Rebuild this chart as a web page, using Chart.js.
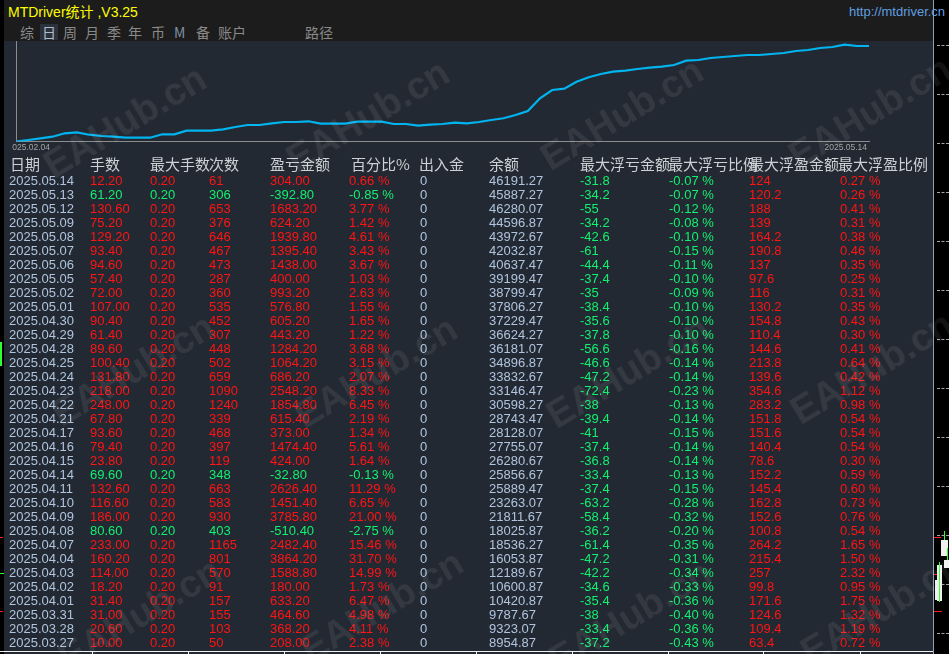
<!DOCTYPE html>
<html>
<head>
<meta charset="utf-8">
<title>MTDriver统计</title>
<script src="https://cdn.jsdelivr.net/npm/chart.js@4.4.1/dist/chart.umd.min.js"></script>
<style>
    html, body { margin: 0; padding: 0; background: #000; }
    body { width: 949px; height: 654px; position: relative; overflow: hidden;
           font-family: "Liberation Sans", Arial, "Noto Sans CJK SC", sans-serif; }
    .abs { position: absolute; white-space: nowrap; }
    #panel { left: 4px; top: 0; width: 929px; height: 654px; background: #232932; }
    #topbar { left: 4px; top: 0; width: 929px; height: 41px; background: #1c1c1c; }
    #title { left: 8px; top: 3px; font-size: 14px; line-height: 18px; color: #ffff00; }
    #url { left: 849px; top: 4px; font-size: 13px; line-height: 16px; color: #5f9fe0; }
    .tab { top: 23px; font-size: 14px; line-height: 18px; color: #8a8a8a; font-family: "Noto Sans CJK SC", sans-serif; }
    #tabOn { left: 40px; top: 24px; width: 18px; height: 16px; background: #2a323e; }
    #curve { position: absolute; left: 12px; top: 41px; }
    .hd { font-size: 15px; line-height: 18px; color: #cdd1d6; font-family: "Noto Sans CJK SC", sans-serif; }
    .cell { font-size: 13px; line-height: 14px; }
    .wm { font-size: 38px; font-weight: bold; color: rgba(255,255,255,0.075);
          transform: translate(-50%, -50%) rotate(-31deg); font-family: "Liberation Sans", Arial, sans-serif; }
    #axisLine { left: 933px; top: 0; width: 1px; height: 654px; background: #8fa0b4; }
    .dash { left: 937px; width: 12px; height: 0; border-top: 1px dashed #a0a8b0; }
    #bottomLine { left: 0; top: 651px; width: 933px; height: 1px; background: #f0f0f0; }
    .sep { top: 652px; width: 1px; height: 2px; background: #f0f0f0; }
</style>
</head>
<body>

<div id="panel" class="abs"></div>
<div id="topbar" class="abs"></div>
<div id="title" class="abs">MTDriver统计 ,V3.25</div>
<div id="url" class="abs">http://mtdriver.cn</div>
<div id="tabOn" class="abs"></div>
<div id="tabs"></div>
<canvas id="curve" width="921" height="115"></canvas>
<div id="table"></div>
<div id="axisLine" class="abs"></div>
<div id="terminal"></div>
<div id="bottomLine" class="abs"></div>
<div id="marks"></div>

<script>
// =============================================
// DATA - balance curve
// =============================================
const curveDates = [
    "2025.02.04", "2025.02.05", "2025.02.06", "2025.02.07", "2025.02.10", "2025.02.11", "2025.02.12",
    "2025.02.13", "2025.02.14", "2025.02.17", "2025.02.18", "2025.02.19", "2025.02.20", "2025.02.21",
    "2025.02.24", "2025.02.25", "2025.02.26", "2025.02.27", "2025.02.28",
    "2025.03.03", "2025.03.04", "2025.03.05", "2025.03.06", "2025.03.07", "2025.03.10", "2025.03.11",
    "2025.03.12", "2025.03.13", "2025.03.14", "2025.03.17", "2025.03.18", "2025.03.19", "2025.03.20",
    "2025.03.21", "2025.03.24", "2025.03.25", "2025.03.26", "2025.03.27", "2025.03.28", "2025.03.31",
    "2025.04.01", "2025.04.02", "2025.04.03", "2025.04.04", "2025.04.07", "2025.04.08", "2025.04.09",
    "2025.04.10", "2025.04.11", "2025.04.14", "2025.04.15", "2025.04.16", "2025.04.17", "2025.04.21",
    "2025.04.22", "2025.04.23", "2025.04.24", "2025.04.25", "2025.04.28", "2025.04.29", "2025.04.30",
    "2025.05.01", "2025.05.02", "2025.05.05", "2025.05.06", "2025.05.07", "2025.05.08", "2025.05.09",
    "2025.05.12", "2025.05.13", "2025.05.14"
];
const curveBalance = [
    0, 720, 1530, 2290, 3910, 4390, 3240, 2620, 2290, 1810, 1810, 1810, 3430, 3430,
    5150, 5150, 5150, 5820, 6920,
    7870, 7870, 8680, 9300, 9300, 9640, 8490, 8490, 8490, 9450, 9450, 9450, 8350, 8350,
    7540, 8010, 8350, 8970, 8680, 9300, 10260,
    11070, 12640, 14550, 20610, 24570, 25190, 28520, 30620, 32200, 33300, 33770, 34580, 35200, 35680,
    36490, 38540, 38880, 39830, 40310, 40780, 41260,
    41260, 41740, 42220, 43170, 43650, 44600, 45080,
    46170, 45550, 45550
];

// =============================================
// DATA - daily table
// =============================================
const dates = [
    "2025.05.14", "2025.05.13", "2025.05.12", "2025.05.09", "2025.05.08", "2025.05.07", "2025.05.06",
    "2025.05.05", "2025.05.02", "2025.05.01", "2025.04.30", "2025.04.29", "2025.04.28", "2025.04.25",
    "2025.04.24", "2025.04.23", "2025.04.22", "2025.04.21", "2025.04.17", "2025.04.16", "2025.04.15",
    "2025.04.14", "2025.04.11", "2025.04.10", "2025.04.09", "2025.04.08", "2025.04.07", "2025.04.04",
    "2025.04.03", "2025.04.02", "2025.04.01", "2025.03.31", "2025.03.28", "2025.03.27"
];
const lots = [12.20, 61.20, 130.60, 75.20, 129.20, 93.40, 94.60, 57.40, 72.00, 107.00, 90.40, 61.40,
    89.60, 100.40, 131.80, 218.00, 248.00, 67.80, 93.60, 79.40, 23.80, 69.60, 132.60, 116.60, 186.00,
    80.60, 233.00, 160.20, 114.00, 18.20, 31.40, 31.00, 20.60, 10.00];
const maxLots = [0.20, 0.20, 0.20, 0.20, 0.20, 0.20, 0.20, 0.20, 0.20, 0.20, 0.20, 0.20, 0.20, 0.20,
    0.20, 0.20, 0.20, 0.20, 0.20, 0.20, 0.20, 0.20, 0.20, 0.20, 0.20, 0.20, 0.20, 0.20, 0.20, 0.20,
    0.20, 0.20, 0.20, 0.20];
const counts = [61, 306, 653, 376, 646, 467, 473, 287, 360, 535, 452, 307, 448, 502, 659, 1090, 1240,
    339, 468, 397, 119, 348, 663, 583, 930, 403, 1165, 801, 570, 91, 157, 155, 103, 50];
const pnl = [304.00, -392.80, 1683.20, 624.20, 1939.80, 1395.40, 1438.00, 400.00, 993.20, 576.80,
    605.20, 443.20, 1284.20, 1064.20, 686.20, 2548.20, 1854.80, 615.40, 373.00, 1474.40, 424.00, -32.80,
    2626.40, 1451.40, 3785.80, -510.40, 2482.40, 3864.20, 1588.80, 180.00, 633.20, 464.60, 368.20, 208.00];
const pct = [0.66, -0.85, 3.77, 1.42, 4.61, 3.43, 3.67, 1.03, 2.63, 1.55, 1.65, 1.22, 3.68, 3.15, 2.07,
    8.33, 6.45, 2.19, 1.34, 5.61, 1.64, -0.13, 11.29, 6.65, 21.00, -2.75, 15.46, 31.70, 14.99, 1.73,
    6.47, 4.98, 4.11, 2.38];
const flows = [0, 0, 0, 0, 0, 0, 0, 0, 0, 0, 0, 0, 0, 0, 0, 0, 0, 0, 0, 0, 0, 0, 0, 0, 0, 0, 0, 0, 0,
    0, 0, 0, 0, 0];
const balances = [46191.27, 45887.27, 46280.07, 44596.87, 43972.67, 42032.87, 40637.47, 39199.47,
    38799.47, 37806.27, 37229.47, 36624.27, 36181.07, 34896.87, 33832.67, 33146.47, 30598.27, 28743.47,
    28128.07, 27755.07, 26280.67, 25856.67, 25889.47, 23263.07, 21811.67, 18025.87, 18536.27, 16053.87,
    12189.67, 10600.87, 10420.87, 9787.67, 9323.07, 8954.87];
const floatLoss = [-31.8, -34.2, -55, -34.2, -42.6, -61, -44.4, -37.4, -35, -38.4, -35.6, -37.8, -56.6,
    -46.6, -47.2, -72.4, -38, -39.4, -41, -37.4, -36.8, -33.4, -37.4, -63.2, -58.4, -36.2, -61.4, -47.2,
    -42.2, -34.6, -35.4, -38, -33.4, -37.2];
const floatLossPct = [-0.07, -0.07, -0.12, -0.08, -0.10, -0.15, -0.11, -0.10, -0.09, -0.10, -0.10, -0.10,
    -0.16, -0.14, -0.14, -0.23, -0.13, -0.14, -0.15, -0.14, -0.14, -0.13, -0.15, -0.28, -0.32, -0.20,
    -0.35, -0.31, -0.34, -0.33, -0.36, -0.40, -0.36, -0.43];
const floatProfit = [124, 120.2, 188, 139, 164.2, 190.8, 137, 97.6, 116, 130.2, 154.8, 110.4, 144.6,
    213.8, 139.6, 354.6, 283.2, 151.8, 151.6, 140.4, 78.6, 152.2, 145.4, 162.8, 152.6, 100.8, 264.2,
    215.4, 257, 99.8, 171.6, 124.6, 109.4, 63.4];
const floatProfitPct = [0.27, 0.26, 0.41, 0.31, 0.38, 0.46, 0.35, 0.25, 0.31, 0.35, 0.43, 0.30, 0.41,
    0.64, 0.42, 1.12, 0.98, 0.54, 0.54, 0.54, 0.30, 0.59, 0.60, 0.73, 0.76, 0.54, 1.65, 1.50, 2.32, 0.95,
    1.75, 1.32, 1.19, 0.72];

const headers = ["日期", "手数", "最大手数", "次数", "盈亏金额", "百分比%", "出入金", "余额",
    "最大浮亏金额", "最大浮亏比例", "最大浮盈金额", "最大浮盈比例"];
const tabs = ["综", "日", "周", "月", "季", "年", "币", "M", "备", "账户", "路径"];

// =============================================
// LAYOUT
// =============================================
const RED = "#ff1414";
const GREEN = "#12f070";
const BLUE = "#b0c4de";
const COLS = [9, 90, 150, 209, 270, 349, 420, 489, 580, 669, 749, 840];
const HEAD_X = [10, 90, 150, 209, 270, 351, 419, 489, 580, 668, 749, 838];
const HEAD_TOP = 155;
const ROW_TOP = 174;
const ROW_H = 14;
const TAB_X = [20, 42, 63, 85, 107, 128, 151, 174, 196, 218, 305];

function put(parent, text, x, y, cls, color) {
    const el = document.createElement("div");
    el.className = "abs " + cls;
    el.style.left = x + "px";
    el.style.top = y + "px";
    if (color) el.style.color = color;
    el.textContent = text;
    parent.appendChild(el);
    return el;
}

// Tabs
const tabBox = document.getElementById("tabs");
tabs.forEach((t, i) => {
    const el = put(tabBox, t, TAB_X[i], 23, "tab");
    if (t === "日") el.style.color = "#b4bccb";
    if (t === "M") el.style.color = "#7f8ea6";
});

// Table
const table = document.getElementById("table");
headers.forEach((h, i) => put(table, h, HEAD_X[i], HEAD_TOP, "hd"));

dates.forEach((d, i) => {
    const top = ROW_TOP + i * ROW_H;
    const c = pnl[i] >= 0 ? RED : GREEN;
    const row = [
        [d, BLUE],
        [lots[i].toFixed(2), c],
        [maxLots[i].toFixed(2), c],
        [String(counts[i]), c],
        [pnl[i].toFixed(2), c],
        [pct[i].toFixed(2) + " %", c],
        [String(flows[i]), BLUE],
        [balances[i].toFixed(2), BLUE],
        [String(floatLoss[i]), GREEN],
        [floatLossPct[i].toFixed(2) + " %", GREEN],
        [String(floatProfit[i]), RED],
        [floatProfitPct[i].toFixed(2) + " %", RED]
    ];
    row.forEach((cellData, j) => put(table, cellData[0], COLS[j], top, "cell", cellData[1]));
});

// Watermarks
const marks = document.getElementById("marks");
[[125, 122], [368, 116], [622, 114], [870, 112],
 [133, 370], [376, 372], [628, 372], [872, 368],
 [140, 614], [382, 606], [630, 616], [882, 608]].forEach(p => put(marks, "EAHub.cn", p[0], p[1], "wm"));

// Terminal chart strip on the right / bottom
const term = document.getElementById("terminal");
for (let k = 0; k < 13; k++) {
    const d = document.createElement("div");
    d.className = "abs dash";
    d.style.top = (45 + k * 49) + "px";
    term.appendChild(d);
}
function bar(x, y, w, h, color) {
    const el = document.createElement("div");
    el.className = "abs";
    el.style.cssText += `left:${x}px;top:${y}px;width:${w}px;height:${h}px;background:${color}`;
    term.appendChild(el);
}
bar(934, 537, 7, 1, "#ff2020"); bar(0, 537, 3, 1, "#ff2020");
bar(934, 611, 8, 1, "#ff2020"); bar(0, 611, 3, 1, "#ff2020");
bar(934, 574, 8, 1, "#ff2020"); bar(0, 573, 4, 1, "#30ff30");
bar(0, 342, 2, 24, "#30ff30");
bar(944, 531, 1, 22, "#30ff30"); bar(941, 540, 7, 16, "#f0f0f0");
bar(947, 548, 1, 20, "#30ff30"); bar(944, 560, 5, 8, "#f0f0f0");
bar(937, 565, 5, 36, "#f0f0f0"); bar(939, 562, 1, 40, "#30ff30");
bar(935, 580, 2, 20, "#f0f0f0");
[92, 188, 284, 380, 476, 572, 668, 763, 860].forEach(x => {
    const s = document.createElement("div");
    s.className = "abs sep";
    s.style.left = x + "px";
    term.appendChild(s);
});

// =============================================
// BALANCE CURVE
// =============================================
const edgeLabels = {
    id: "edgeLabels",
    afterDraw(chart) {
        const { ctx, chartArea } = chart;
        ctx.save();
        ctx.font = "8.5px 'Liberation Sans', Arial, sans-serif";
        ctx.fillStyle = "#a4a4a4";
        ctx.textBaseline = "middle";
        ctx.textAlign = "left";
        ctx.fillText(curveDates[0], chartArea.left - 8.5, chartArea.bottom + 6.5);
        ctx.textAlign = "right";
        ctx.fillText(curveDates[curveDates.length - 1], chartArea.right - 2, chartArea.bottom + 6.5);
        ctx.restore();
    }
};

new Chart(document.getElementById("curve"), {
    type: "line",
    data: {
        labels: curveDates,
        datasets: [{
            data: curveBalance,
            borderColor: "#00b4f0",
            borderWidth: 2.2,
            pointRadius: 0,
            tension: 0,
            fill: false
        }]
    },
    options: {
        responsive: false,
        animation: false,
        devicePixelRatio: 1,
        layout: { padding: { left: 4, right: 64, top: 0.5, bottom: 14.5 } },
        plugins: { legend: { display: false }, tooltip: { enabled: false } },
        scales: {
            x: {
                type: "category",
                offset: false,
                grid: { display: false, drawTicks: false },
                ticks: { display: false },
                border: { display: true, color: "#8c8c8c", width: 1 }
            },
            y: {
                min: 0,
                max: 47700,
                grid: { display: false, drawTicks: false },
                ticks: { display: false },
                border: { display: true, color: "#8c8c8c", width: 1 }
            }
        }
    },
    plugins: [edgeLabels]
});
</script>
</body>
</html>
